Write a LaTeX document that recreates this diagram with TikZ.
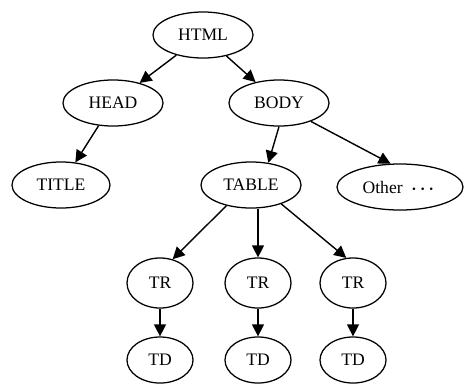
\documentclass[tikz,border=0pt]{standalone}
\usepackage{fontspec}
\setmainfont{Liberation Serif}
\usepackage{amsmath}
\usepackage{bm}
\usepackage{tikz}
\usetikzlibrary{shapes.geometric, arrows.meta}
\tikzset{
	tag/.style      ={ellipse, draw=black, line width=0.9pt, minimum width=2.5cm, minimum height=1.15cm, inner sep=0pt, align=center, font=\fontsize{12.5}{14}\selectfont},
	smalltag/.style ={tag, minimum width=1.65cm, minimum height=1.25cm},
	treearrow/.style={-{Triangle[length=3mm, width=3mm]}, line width=1pt},
}
\begin{document}
\begin{tikzpicture}[x=0.025cm, y=-0.025cm]
	\useasboundingbox (0,0) rectangle (465,384);
	% tree nodes
	\node[tag] (html)  at (203,35)  {HTML};
	\node[tag] (head)  at (113,103) {HEAD};
	\node[tag] (body)  at (279,103) {BODY};
	\node[tag, minimum width=2.45cm] (title) at (61,185) {TITLE};
	\node[tag] (table) at (251,185) {TABLE};
	\node[tag, minimum width=3.15cm] (other) at (400,187) {Other~~$\bm{\cdots}$};
	\node[smalltag] (trA) at (160,283) {TR};
	\node[smalltag] (trB) at (258,283) {TR};
	\node[smalltag] (trC) at (353,283) {TR};
	\node[smalltag, minimum height=1.15cm] (tdA) at (160,360) {TD};
	\node[smalltag, minimum height=1.15cm] (tdB) at (258,360) {TD};
	\node[smalltag, minimum height=1.15cm] (tdC) at (353,360) {TD};
	% edges
	\draw[treearrow] (html) -- (head);
	\draw[treearrow] (html) -- (body);
	\draw[treearrow] (head) -- (title);
	\draw[treearrow] (body.south) -- (table.52);
	\draw[treearrow] (body.-30) -- (other.112);
	\draw[treearrow] (table.-140) -- (trA.62);
	\draw[treearrow] (table.south -| trB.north) -- (trB.north);
	\draw[treearrow] (table.-32) -- (trC.105);
	\draw[treearrow] (trA) -- (tdA);
	\draw[treearrow] (trB) -- (tdB);
	\draw[treearrow] (trC) -- (tdC);
\end{tikzpicture}
\end{document}
